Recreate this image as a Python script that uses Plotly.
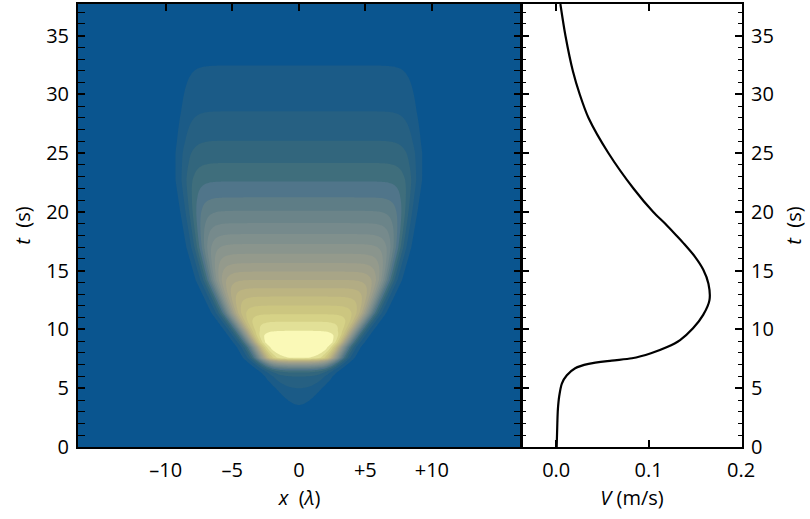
import numpy as np
import plotly.graph_objects as go

# ---------------- data ----------------
# centre intensity of the pulse along t (contour level units, 20 levels)
amp_t = [0, 2.5, 3.58, 5.0, 6.0, 6.35, 6.5, 6.62, 6.72, 6.81, 6.89, 6.97, 7.05, 7.12,
         7.19, 7.26, 7.32, 7.38, 7.43, 7.47, 7.51, 7.55, 8.3, 8.9, 9.5, 9.88, 10.67,
         11.3, 12.04, 12.8, 13.52, 14.22, 14.93, 15.65, 16.44, 17.27, 18.12, 19.05,
         20.1, 21.24, 22.6, 24.17, 26.06, 28.56, 32.45, 37.7]
amp_v = [0, 0.4, 1, 2, 3, 4, 5, 6, 7, 8, 9, 10, 11, 12, 13, 14, 15, 16, 17, 18, 19,
         20, 21.4, 21.9, 20.9, 20, 19, 18, 17, 16, 15, 14, 13, 12, 11, 10, 9, 8, 7,
         6, 5, 4, 3, 2, 1, 0.4]
# half width of the pulse (in lambda) along t
width_t = [0, 3.5, 5.0, 5.7, 7.0, 8.5, 11.4, 14.2, 17, 20, 22.7, 25, 30, 37.7]
width_v = [0.5, 0.9, 1.7, 2.1, 2.6, 3.3, 5.3, 6.6, 7.45, 8.1, 8.65, 8.85, 8.85, 8.85]
edge_width = 0.9

# velocity curve
vel_t = [0, 2, 3.2, 4.3, 5.4, 6.1, 6.7, 7.07, 7.35, 7.55, 7.98, 8.5, 9.1, 10.1,
         11.24, 12.5, 13.9, 15.1, 16.2, 17.35, 18, 19, 20, 22, 25, 28, 30, 32, 35, 37.7]
vel_v = [0.0005, 0.0012, 0.0018, 0.0032, 0.0061, 0.0115, 0.0205, 0.035, 0.060,
         0.082, 0.1025, 0.120, 0.134, 0.148, 0.159, 0.1658, 0.1647, 0.159, 0.150,
         0.1376, 0.130, 0.118, 0.105, 0.0836, 0.0566, 0.035, 0.0255, 0.0180, 0.0100,
         0.0045]

band_colors = ["#0A558F", "#1B5B87", "#266082", "#32667D", "#3F6E7C", "#50758A",
               "#5E7D86", "#6B8489", "#768A8C", "#80908D", "#8A958D", "#949A8C",
               "#9E9F8A", "#A8A587", "#B2AC84", "#BCB481", "#C4BD80", "#CCC680",
               "#D6D287", "#E2E097", "#FAF9B7"]

x_ticks = [-10, -5, 0, 5, 10]
x_tick_text = ["\u201310", "\u20135", "0", "+5", "+10"]
t_ticks = [0, 5, 10, 15, 20, 25, 30, 35]
v_ticks = [0.0, 0.1, 0.2]
v_tick_text = ["0.0", "0.1", "0.2"]

# ---------------- build the field ----------------
xg = np.round(np.arange(-16.8, 16.81, 0.1), 2)
tg = np.round(np.arange(0, 37.81, 0.1), 2)
A = np.interp(tg, amp_t, amp_v)[:, None]
W = np.interp(tg, width_t, width_v)[:, None]
X = np.abs(xg)[None, :]
S = (np.tanh((W - X) / edge_width) + np.tanh((W + X) / edge_width)) / (2 * np.tanh(W / edge_width))
Z = np.round(A * S, 3)

n = len(band_colors)
colorscale = [[i / (n - 1), c] for i, c in enumerate(band_colors)]

fig = go.Figure()
fig.add_trace(go.Contour(
    x=xg, y=tg, z=Z, xaxis="x", yaxis="y",
    autocontour=False,
    contours=dict(start=1, end=20, size=1, coloring="fill", showlines=False),
    line=dict(width=0),
    colorscale=colorscale, showscale=False, hoverinfo="skip",
))
fig.add_trace(go.Scatter(
    x=vel_v, y=vel_t, xaxis="x2", yaxis="y2", mode="lines",
    line=dict(color="black", width=2.2, shape="spline", smoothing=0.8),
    showlegend=False, hoverinfo="skip",
))
fig.add_trace(go.Scatter(x=[None], y=[None], xaxis="x3", yaxis="y", showlegend=False))

font = dict(family="Open Sans", size=20, color="black")
axis_common = dict(showline=True, linecolor="black", linewidth=2, showgrid=False,
                   zeroline=False, tickcolor="black", tickwidth=1.5, ticklen=7,
                   tickfont=font, ticks="inside", automargin=False)

tmax = 37.7
fig.update_layout(
    width=810, height=519,
    margin=dict(l=78, r=68, t=4, b=72),
    paper_bgcolor="white", plot_bgcolor="white",
    font=font,
    showlegend=False,
    xaxis=dict(axis_common, domain=[0, 0.6672], range=[-16.6, 16.7], anchor="y",
               tickvals=x_ticks, ticktext=x_tick_text, ticks="", mirror=True,
               ticklabelstandoff=4,
               title=dict(text="<i>x</i>  (<i>λ</i>)", font=font, standoff=9)),
    xaxis3=dict(axis_common, overlaying="x", side="top", anchor="y",
                range=[-16.6, 16.7], tickvals=x_ticks, showticklabels=False,
                showline=False),
    yaxis=dict(axis_common, domain=[0, 1], range=[0, tmax], anchor="x",
               tickvals=t_ticks, mirror="allticks", ticklabelstandoff=3,
               minor=dict(dtick=1, ticklen=4, tickwidth=1.2, tickcolor="black", ticks="inside"),
               title=dict(text="<i>t</i>  (s)", font=font, standoff=10)),
    xaxis2=dict(axis_common, domain=[0.6687, 1], range=[-0.037, 0.201], anchor="y2",
                tickvals=v_ticks, ticktext=v_tick_text, mirror="ticks",
                ticklabelstandoff=4,
                title=dict(text="<i>V</i> (m/s)", font=font, standoff=9)),
    yaxis2=dict(axis_common, domain=[0, 1], range=[0, tmax], anchor="x2", side="right",
                tickvals=t_ticks, mirror="allticks", ticklabelstandoff=3,
                minor=dict(dtick=1, ticklen=4, tickwidth=1.2, tickcolor="black", ticks="inside"),
                title=dict(text="<i>t</i>  (s)", font=font, standoff=14)),
)

fig.write_html("out.html", config={"displayModeBar": False},
               post_script="document.body.style.margin='0px';")
